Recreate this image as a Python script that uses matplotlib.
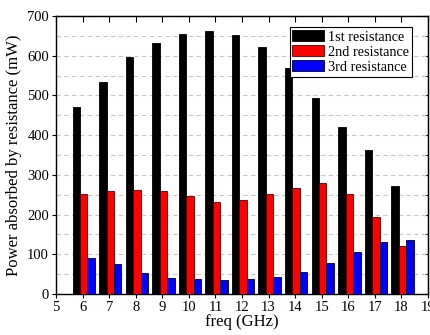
import matplotlib
matplotlib.use("Agg")
import matplotlib.pyplot as plt
import numpy as np
from matplotlib.ticker import MultipleLocator

freqs = [6, 7, 8, 9, 10, 11, 12, 13, 14, 15, 16, 17, 18]
first = [472, 535, 597, 632, 655, 662, 653, 621, 570, 494, 421, 363, 272]
second = [252, 260, 261, 259, 247, 232, 237, 251, 266, 280, 251, 193, 121]
third = [91, 75, 52, 41, 37, 34, 37, 42, 55, 77, 107, 132, 135]
labels = ["1st resistance", "2nd resistance", "3rd resistance"]

plt.rcParams['font.family'] = ['Liberation Serif', 'DejaVu Serif']
fig = plt.figure(figsize=(4.31, 3.35), dpi=100)
ax = fig.add_axes([0.130, 0.1224, 0.863, 0.8296])

x = np.array(freqs, dtype=float)
w = 0.28
ax.bar(x - 0.24, first, width=w, color='black', edgecolor='black', linewidth=0.6, label=labels[0], zorder=3)
ax.bar(x + 0.04, second, width=w, color='#ff0000', edgecolor='#550000', linewidth=0.6, label=labels[1], zorder=3)
ax.bar(x + 0.32, third, width=w, color='#0000ff', edgecolor='#000033', linewidth=0.6, label=labels[2], zorder=3)

ax.set_xlim(5, 19)
ax.set_ylim(0, 700)
ax.set_xticks(range(5, 20))
ax.yaxis.set_major_locator(MultipleLocator(100))
ax.yaxis.set_minor_locator(MultipleLocator(50))
ax.grid(axis='y', which='both', linestyle=(0, (4, 3)), color='#c8c8c8', linewidth=0.8, zorder=0)

ax.tick_params(axis='both', which='major', labelsize=10.5, length=3, width=0.8, direction='out', pad=2)
ax.tick_params(axis='y', which='minor', length=0, left=False)
ax2 = ax.secondary_xaxis('top')
ax2.set_xticks(range(5, 20))
ax2.tick_params(direction='in', length=4, width=0.8, labeltop=False)
ax3 = ax.secondary_yaxis('right')
ax3.yaxis.set_major_locator(MultipleLocator(50))
ax3.tick_params(direction='in', length=4, width=0.8, labelright=False)

for s in ax.spines.values():
    s.set_linewidth(1.0)

ax.set_xlabel("freq (GHz)", fontsize=12, labelpad=0)
ax.set_ylabel("Power absorbed by resistance (mW)", fontsize=12, labelpad=4)

leg = ax.legend(loc='upper right', bbox_to_anchor=(0.957, 0.960), fontsize=10.3,
                frameon=True, fancybox=False,
                edgecolor='black', framealpha=1, borderpad=0.2, labelspacing=0.12,
                handlelength=2.2, handleheight=0.8, handletextpad=0.3,
                borderaxespad=0)
leg.get_frame().set_linewidth(0.8)

fig.savefig("out.png", dpi=100)
